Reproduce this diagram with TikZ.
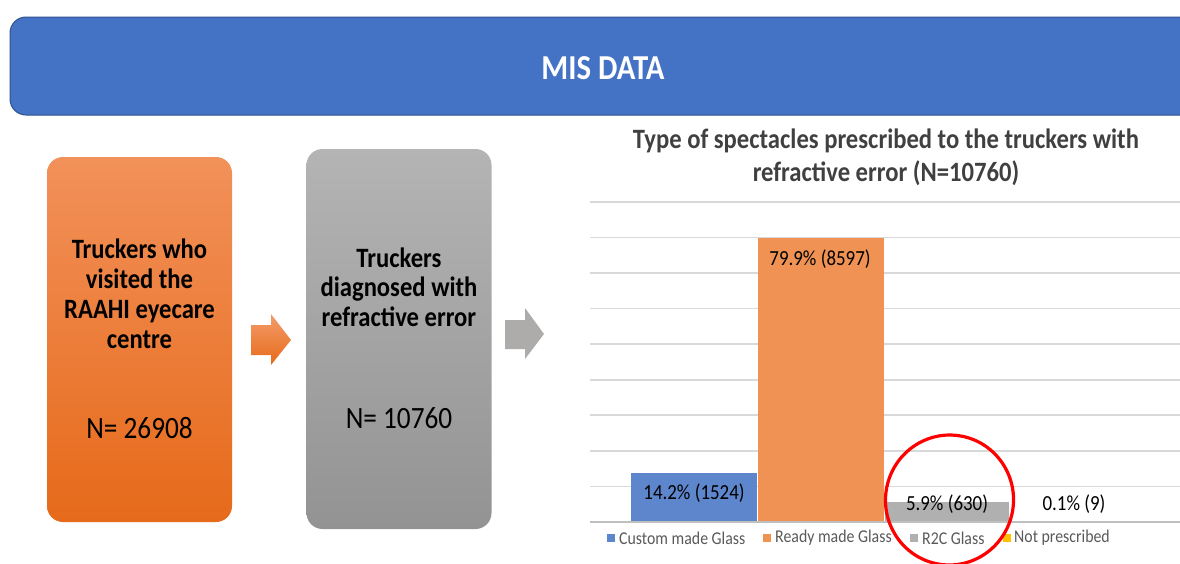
\documentclass[tikz,border=0pt]{standalone}
\usepackage{fontspec}
\usepackage{graphicx}
\setmainfont{Carlito}
\definecolor{hdrblue}{HTML}{4472C4}
\definecolor{hdredge}{HTML}{2F528F}
\definecolor{orgtop}{HTML}{F2915A}
\definecolor{orgbot}{HTML}{E66A1A}
\definecolor{grytop}{HTML}{B4B4B4}
\definecolor{grybot}{HTML}{939393}
\definecolor{arrgray}{HTML}{AEABAB}
\definecolor{gridc}{HTML}{D9D9D9}
\definecolor{basec}{HTML}{BFBFBF}
\definecolor{titlec}{HTML}{404040}
\definecolor{legc}{HTML}{595959}
\definecolor{barblue}{HTML}{5E86CD}
\definecolor{barorange}{HTML}{EF9253}
\definecolor{bargray}{HTML}{B0B0B0}
\definecolor{baryellow}{HTML}{FFC000}
% narrow-set text
\newcommand{\narrowset}[1]{\scalebox{0.88}[1]{#1}}
\newcommand{\narrowlines}[1]{\scalebox{0.88}[1]{\begin{tabular}{@{}c@{}}#1\end{tabular}}}
\tikzset{
  flowbox/.style={rectangle, rounded corners=16pt, minimum width=185pt, draw=none},
  boxtext/.style={inner sep=0pt, font=\fontsize{28}{30}\selectfont\bfseries, text=black},
  counttext/.style={inner sep=0pt, font=\fontsize{31}{34}\selectfont, text=black},
  barlabel/.style={inner sep=0pt, font=\fontsize{21.5}{24}\selectfont, text=black},
  legtext/.style={font=\fontsize{18}{20}\selectfont, text=legc, anchor=west, inner sep=0pt},
  legkey/.style={minimum size=8pt, inner sep=0pt, anchor=west},
  gridline/.style={draw=gridc, line width=1.3pt}
}
\begin{document}
\begin{tikzpicture}[x=1pt, y=-1pt]
\useasboundingbox (0,0) rectangle (1180,563);
\clip (0,0) rectangle (1180,563);

% header banner, running off the right edge
\draw[hdredge, fill=hdrblue, line width=1pt, rounded corners=16pt]
  (10,17) rectangle (1210,115);
\node[inner sep=0pt, font=\fontsize{35}{38}\selectfont\bfseries, text=white] (hdr) at (603,68) {\narrowset{MIS DATA}};

% flow: two boxes with block arrows
\node[flowbox, minimum height=365pt, top color=orgtop, bottom color=orgbot] (visited) at (139.5,339.5) {};
\node[boxtext] (visitedtxt) at (139.5,297) {\narrowlines{Truckers who\\visited the\\RAAHI eyecare\\centre}};
\node[counttext] (visitedn) at (139.5,428) {\narrowset{N= 26908}};

\node[flowbox, minimum height=380pt, top color=grytop, bottom color=grybot] (diag) at (399,339) {};
\node[boxtext, font=\fontsize{28}{29.5}\selectfont\bfseries] (diagtxt) at (399,291) {\narrowlines{Truckers\\diagnosed with\\refractive error}};
\node[counttext] (diagn) at (399,418) {\narrowset{N= 10760}};

\shade[top color=orgtop!90!white, bottom color=orgbot]
  (251,325) -- (271,325) -- (271,314) -- (291,340) -- (271,365) -- (271,355) -- (251,355) -- cycle;
\fill[arrgray]
  (505,320) -- (525,320) -- (525,308) -- (544,334) -- (525,359) -- (525,349) -- (505,349) -- cycle;

% chart title
\node[inner sep=0pt, font=\fontsize{28}{33}\selectfont\bfseries, text=titlec] (ctitle) at (886,158.5)
  {\narrowlines{Type of spectacles prescribed to the truckers with\\refractive error (N=10760)}};

% gridlines
\foreach \gy in {202,237.5,273,308.5,344,380,415,451,486.5}
  \draw[gridline] (590,\gy) -- (1180,\gy);

% bars
\fill[barblue]   (631,473) rectangle (757,522);
\fill[barorange] (758,238) rectangle (884,522);
\fill[bargray]   (885,502) rectangle (1009,522);
\fill[baryellow] (1010,521) rectangle (1139,522.5);
\draw[draw=basec, line width=1.3pt] (590,522) -- (1180,522);

\node[barlabel] (lblcustom) at (694,493) {\narrowset{14.2\% (1524)}};
\node[barlabel] (lblready)  at (820,259) {\narrowset{79.9\% (8597)}};
\node[barlabel] (lblr2c)    at (947,504) {\narrowset{5.9\% (630)}};
\node[barlabel] (lblnone)   at (1074,504) {\narrowset{0.1\% (9)}};

% legend
\node[legkey, fill=barblue]   (k1) at (607,538) {};
\node[legtext] (t1) at (619,538) {\narrowset{Custom made Glass}};
\node[legkey, fill=barorange] (k2) at (763,538) {};
\node[legtext] (t2) at (775,538) {\narrowset{Ready made Glass}};
\node[legkey, fill=bargray]   (k3) at (910,538) {};
\node[legtext] (t3) at (922,538) {\narrowset{R2C Glass}};
\node[legkey, fill=baryellow] (k4) at (1002.5,538) {};
\node[legtext] (t4) at (1014,538) {\narrowset{Not prescribed}};

% highlight ring around the R2C bar
\draw[red, line width=3.2pt, rotate around={-8:(949.5,500)}] (949.5,500) ellipse [x radius=64pt, y radius=65pt];
\end{tikzpicture}
\end{document}
